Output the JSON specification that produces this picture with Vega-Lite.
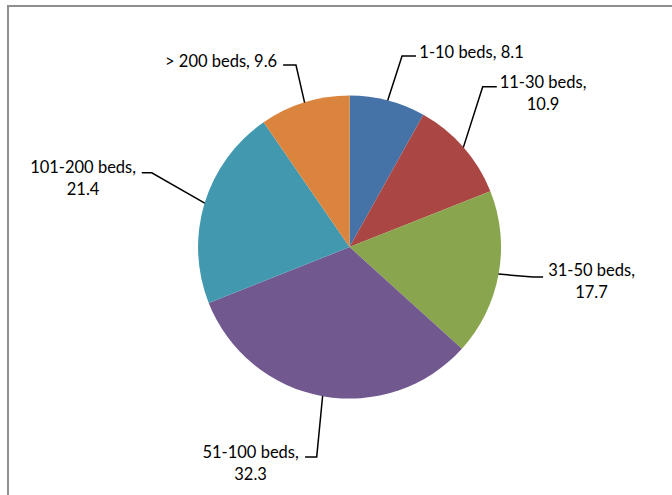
{
  "$schema": "https://vega.github.io/schema/vega-lite/v6.json",
  "width": 684,
  "height": 509,
  "autosize": {"type": "none"},
  "padding": {"left": 8, "top": 6, "right": -20, "bottom": -20},
  "background": "white",
  "config": {"view": {"stroke": "#8f8f8f", "strokeWidth": 2}},
  "datasets": {
    "slices": [
      {"category": "1-10 beds", "value": 8.1, "rank": 1},
      {"category": "11-30 beds", "value": 10.9, "rank": 2},
      {"category": "31-50 beds", "value": 17.7, "rank": 3},
      {"category": "51-100 beds", "value": 32.3, "rank": 4},
      {"category": "101-200 beds", "value": 21.4, "rank": 5},
      {"category": "> 200 beds", "value": 9.6, "rank": 6}
    ],
    "labels": [
      {"category": "1-10 beds", "text": "1-10 beds, 8.1", "lx": 80.6, "ly": 128.2},
      {"category": "11-30 beds", "text": "11-30 beds,\n10.9", "lx": 127.9, "ly": 108.7},
      {"category": "31-50 beds", "text": "31-50 beds,\n17.7", "lx": 159.9, "ly": -15.9},
      {"category": "51-100 beds", "text": "51-100 beds,\n32.3", "lx": -65.4, "ly": -135.8},
      {"category": "101-200 beds", "text": "101-200 beds,\n21.4", "lx": -176.1, "ly": 52.5},
      {"category": "> 200 beds", "text": "> 200 beds, 9.6", "lx": -84.9, "ly": 122.6}
    ],
    "leaders": [
      {"category": "1-10 beds", "step": 1, "lx": 25.2, "ly": 96.8},
      {"category": "1-10 beds", "step": 2, "lx": 34.7, "ly": 126.2},
      {"category": "1-10 beds", "step": 3, "lx": 43.9, "ly": 126.2},
      {"category": "11-30 beds", "step": 1, "lx": 75.2, "ly": 65.9},
      {"category": "11-30 beds", "step": 2, "lx": 88.0, "ly": 105.9},
      {"category": "11-30 beds", "step": 3, "lx": 97.3, "ly": 105.9},
      {"category": "31-50 beds", "step": 1, "lx": 98.4, "ly": -17.8},
      {"category": "31-50 beds", "step": 2, "lx": 121.3, "ly": -19.8},
      {"category": "31-50 beds", "step": 3, "lx": 127.9, "ly": -19.8},
      {"category": "51-100 beds", "step": 1, "lx": -17.8, "ly": -98.4},
      {"category": "51-100 beds", "step": 2, "lx": -21.7, "ly": -138.6},
      {"category": "51-100 beds", "step": 3, "lx": -29.4, "ly": -138.6},
      {"category": "101-200 beds", "step": 1, "lx": -95.7, "ly": 29.1},
      {"category": "101-200 beds", "step": 2, "lx": -130.7, "ly": 49.1},
      {"category": "101-200 beds", "step": 3, "lx": -137.3, "ly": 49.1},
      {"category": "> 200 beds", "step": 1, "lx": -29.7, "ly": 95.5},
      {"category": "> 200 beds", "step": 2, "lx": -35.4, "ly": 120.3},
      {"category": "> 200 beds", "step": 3, "lx": -43.9, "ly": 120.3}
    ]
  },
  "layer": [
    {
      "data": {"name": "slices"},
      "mark": {"type": "arc", "outerRadius": 151.5},
      "encoding": {
        "x": {"datum": 0, "type": "quantitative", "scale": {"domain": [-225.7, 226.3], "nice": false, "zero": false}, "axis": null},
        "y": {"datum": 0, "type": "quantitative", "scale": {"domain": [-177, 159.3], "nice": false, "zero": false}, "axis": null},
        "theta": {"field": "value", "type": "quantitative", "stack": true},
        "order": {"field": "rank", "type": "quantitative"},
        "color": {
          "field": "category",
          "type": "nominal",
          "scale": {
            "domain": ["1-10 beds", "11-30 beds", "31-50 beds", "51-100 beds", "101-200 beds", "> 200 beds"],
            "range": ["#4572A7", "#AA4643", "#89A54E", "#71588F", "#4198AF", "#DB843D"]
          },
          "legend": null
        }
      }
    },
    {
      "data": {"name": "leaders"},
      "mark": {"type": "line", "color": "black", "strokeWidth": 1.5},
      "encoding": {
        "x": {"field": "lx", "type": "quantitative", "axis": null},
        "y": {"field": "ly", "type": "quantitative", "axis": null},
        "detail": {"field": "category"},
        "order": {"field": "step", "type": "quantitative"}
      }
    },
    {
      "data": {"name": "labels"},
      "mark": {"type": "text", "font": "Lato", "fontSize": 16.5, "align": "center", "baseline": "middle", "lineBreak": "\n", "lineHeight": 22, "color": "black"},
      "encoding": {
        "x": {"field": "lx", "type": "quantitative", "axis": null},
        "y": {"field": "ly", "type": "quantitative", "axis": null},
        "text": {"field": "text"}
      }
    }
  ]
}
